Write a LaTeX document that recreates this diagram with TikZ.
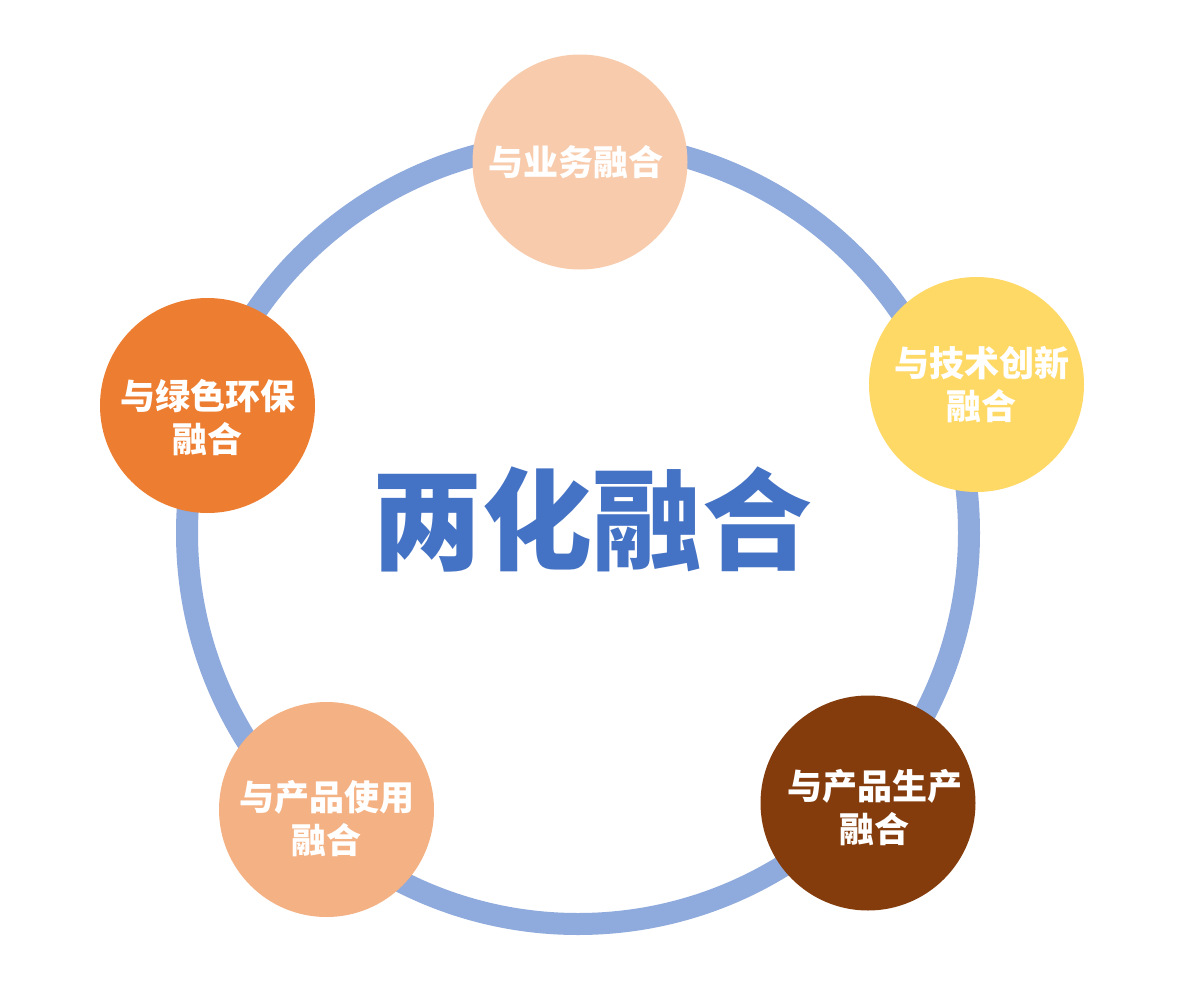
\documentclass[tikz,border=0pt]{standalone}
\usepackage{fontspec}
\newfontfamily\cjk{Noto Sans CJK SC}
\definecolor{ringblue}{HTML}{8FAADC}
\definecolor{titleblue}{HTML}{4472C4}
\definecolor{cpeach}{HTML}{F7CBAC}
\definecolor{cyellow}{HTML}{FFD966}
\definecolor{corange}{HTML}{ED7D31}
\definecolor{csalmon}{HTML}{F4B183}
\definecolor{cbrown}{HTML}{843C0C}
\begin{document}
\begin{tikzpicture}[x=1pt,y=-1pt,
  ringline/.style={draw=ringblue, line width=22pt},
  bubble/.style={circle, minimum size=215pt, inner sep=0pt, draw=none},
  lbl/.style={text=white, align=center, font=\cjk\bfseries\fontsize{35}{43}\selectfont, inner sep=0pt},
  title/.style={text=titleblue, font=\cjk\bfseries\fontsize{110}{120}\selectfont, inner sep=0pt}]
\path[fill=white] (0,0) rectangle (1200,1001);
\useasboundingbox (0,0) rectangle (1200,1001);
\node[circle, minimum size=782pt, inner sep=0pt, ringline] (ring) at (578,533) {};
\node[bubble, fill=cpeach] (b1) at (580,162) {};
\node[bubble, fill=cyellow] (b2) at (976.5,384.5) {};
\node[bubble, fill=cbrown] (b3) at (868,803) {};
\node[bubble, fill=csalmon] (b4) at (326.5,809.5) {};
\node[bubble, fill=corange] (b5) at (207.5,405.5) {};
\node[lbl] (t1) at (576,162) {与业务融合};
\node[lbl] (t2) at (981.5,385) {与技术创新\\融合};
\node[lbl] (t3) at (874.5,808) {与产品生产\\融合};
\node[lbl] (t4) at (326.5,819) {与产品使用\\融合};
\node[lbl] (t5) at (207.5,418) {与绿色环保\\融合};
\node[title] (center) at (592,519) {两化融合};
\end{tikzpicture}
\end{document}
